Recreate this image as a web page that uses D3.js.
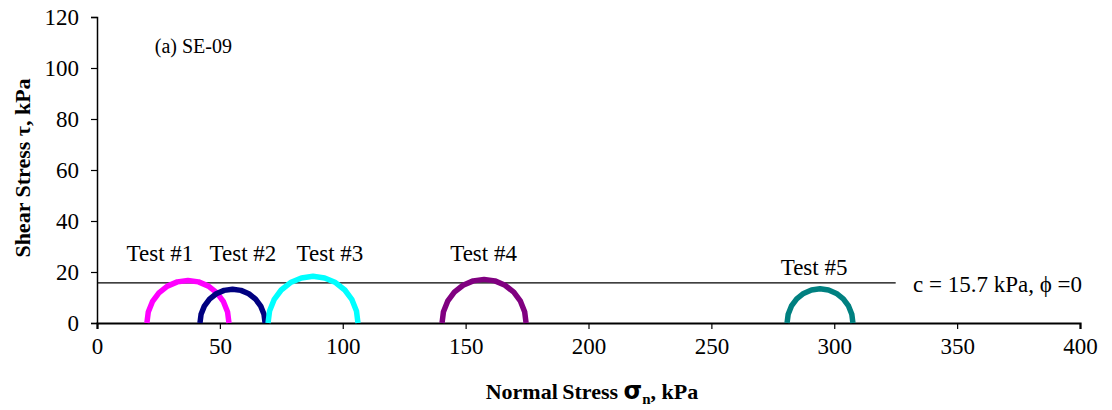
<!DOCTYPE html>
<html>
<head>
<meta charset="utf-8">
<script src="https://cdn.jsdelivr.net/npm/d3@7"></script>
<style>
  body { margin: 0; background: #fff; }
  svg text { font-family: 'Liberation Serif', 'Times New Roman', serif; fill: #000; }
</style>
</head>
<body>
<div id="chart"></div>
<script>
// Mohr circles: minor and major principal stress for each test (kPa)
const tests = ['Test #1', 'Test #2', 'Test #3', 'Test #4', 'Test #5'];
const sigma3 = [20.3, 41.9, 69.6, 140.4, 280.8];
const sigma1 = [53.7, 68.4, 106.2, 174.6, 307.6];
const colors = ['#ff00ff', '#000080', '#00ffff', '#800080', '#008080'];
// label anchor positions (kPa)
const labelX = [25.6, 59.4, 94.8, 157.3, 291.8];
const labelY = [24.3, 24.3, 24.3, 24.3, 18.8];

const cohesion = 15.7;
const envelopeEnd = 325;

const xTicks = [0, 50, 100, 150, 200, 250, 300, 350, 400];
const yTicks = [0, 20, 40, 60, 80, 100, 120];

const serif = "'Liberation Serif', 'Times New Roman', serif";
const width = 1112, height = 410;
const margin = { top: 17, right: 32, bottom: 87, left: 97 };
const w = width - margin.left - margin.right;
const h = height - margin.top - margin.bottom;

const svg = d3.select('#chart').append('svg')
  .attr('width', width)
  .attr('height', height);

const g = svg.append('g')
  .attr('transform', `translate(${margin.left},${margin.top})`);

const x = d3.scaleLinear().domain([0, 400]).range([0, w]);
const y = d3.scaleLinear().domain([0, 120]).range([h, 0]);

// axes
const xAxis = g.append('g')
  .attr('transform', `translate(0,${h})`)
  .call(d3.axisBottom(x).tickValues(xTicks).tickSize(6).tickPadding(9))
  .attr('font-family', serif)
  .attr('font-size', 23);
xAxis.select('.domain').attr('stroke-width', 2.2);
xAxis.selectAll('line').attr('stroke-width', 1.2);

const yAxis = g.append('g')
  .call(d3.axisLeft(y).tickValues(yTicks).tickSize(6).tickPadding(12))
  .attr('font-family', serif)
  .attr('font-size', 23);
yAxis.select('.domain').attr('stroke-width', 1.5);
yAxis.selectAll('line').attr('stroke-width', 1.2);

// cohesion envelope
g.append('line')
  .attr('x1', x(0)).attr('x2', x(envelopeEnd))
  .attr('y1', y(cohesion)).attr('y2', y(cohesion))
  .attr('stroke', '#000').attr('stroke-width', 1.2);

// Mohr semicircles, drawn as polylines like the spreadsheet original
const steps = 12;
const line = d3.line().x(d => x(d[0])).y(d => y(d[1]));
tests.forEach((t, i) => {
  const c = (sigma3[i] + sigma1[i]) / 2;
  const r = (sigma1[i] - sigma3[i]) / 2;
  const pts = d3.range(steps + 1).map(k => {
    const a = Math.PI - Math.PI * k / steps;
    return [c + r * Math.cos(a), r * Math.sin(a)];
  });
  g.append('path')
    .datum(pts)
    .attr('d', line)
    .attr('fill', 'none')
    .attr('stroke', colors[i])
    .attr('stroke-width', 5.5)
    .attr('stroke-linejoin', 'round');

  g.append('text')
    .attr('x', x(labelX[i]))
    .attr('y', y(labelY[i]))
    .attr('text-anchor', 'middle')
    .style('font-size', '23px')
    .text(t);
});

// annotations
g.append('text')
  .attr('x', x(23.5)).attr('y', 36)
  .style('font-size', '20px')
  .text('(a) SE-09');

g.append('text')
  .attr('x', 816).attr('y', 275)
  .style('font-size', '23px')
  .text('c = 15.7 kPa, \u03d5 =0');

// axis titles
const xt = svg.append('text')
  .attr('x', 592).attr('y', 399)
  .attr('text-anchor', 'middle')
  .style('font-size', '22px')
  .style('font-weight', 'bold');
xt.append('tspan').text('Normal\u2009Stress ');
xt.append('tspan').style('font-family', 'DejaVu Sans').style('font-size', '24px').text('\u03c3');
xt.append('tspan').attr('dy', 5).style('font-size', '15px').text('n');
xt.append('tspan').attr('dy', -5).text(', kPa');

svg.append('text')
  .attr('transform', 'translate(30,168) rotate(-90)')
  .attr('text-anchor', 'middle')
  .style('font-size', '22px')
  .style('font-weight', 'bold')
  .text('Shear Stress \u03c4, kPa');
</script>
</body>
</html>
